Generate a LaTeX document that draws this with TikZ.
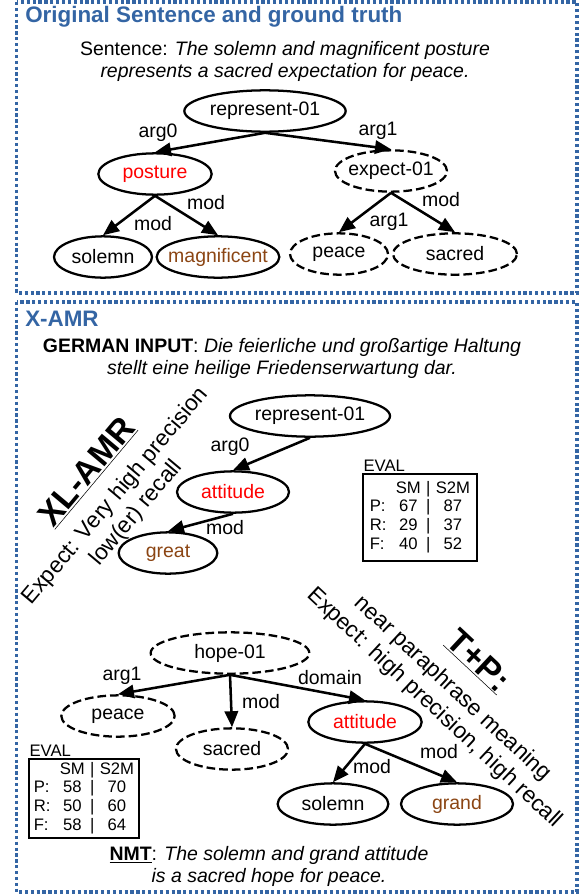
\documentclass[tikz,border=0pt]{standalone}
\usepackage{fontspec}
\setmainfont{Liberation Sans}
\usetikzlibrary{arrows.meta,shapes.geometric,positioning}
\definecolor{frameblue}{HTML}{3465A4}
\definecolor{conceptred}{HTML}{FF0000}
\definecolor{conceptbrown}{HTML}{8B4513}

% keep the ellipse size independent of the label width
\newcommand{\ctr}[1]{\makebox[0pt]{#1}}

\begin{document}
\begin{tikzpicture}[
  x=0.75pt, y=-0.75pt,
  font=\fontsize{14.6}{16.5}\selectfont,
  concept/.style={ellipse, draw, line width=1.7pt, inner sep=0pt, minimum height=31pt},
  guess/.style={concept, dash pattern=on 6.5pt off 3pt},
  edge/.style={-{Triangle[length=12pt,width=10pt]}, line width=1.9pt},
  role/.style={inner sep=0pt},
  frame/.style={draw=frameblue, line width=2.6pt, dash pattern=on 2.4pt off 2pt},
  heading/.style={anchor=west, text=frameblue, inner sep=0pt,
    font=\fontsize{16.8}{20}\selectfont\bfseries},
  gloss/.style={align=center, inner sep=0pt},
  evalbox/.style={draw, line width=1.4pt, inner xsep=2pt, inner ysep=0pt,
    anchor=north west, font=\fontsize{12.5}{14}\selectfont},
  evaltag/.style={anchor=south west, inner sep=1pt, font=\fontsize{12.5}{14}\selectfont},
  verdict/.style={align=center, inner sep=0pt, font=\fontsize{17}{20}\selectfont}
]
\useasboundingbox (0,0) rectangle (581,896);

% panels
\draw[frame] (16.5,2) rectangle (577,293);
\draw[frame] (16.5,302) rectangle (577,892);
\node[heading] (title-orig) at (25,17) {Original Sentence and ground truth};
\node[heading] (title-xamr) at (25,319) {X-AMR};

% ground truth
\node[gloss] (sentence) at (285,61)
  {Sentence: \textit{The solemn and magnificent posture}\\
   \textit{represents a sacred expectation for peace.}};

\node[concept, minimum width=121pt] (rep1) at (265,111) {\ctr{represent-01}};
\node[concept, minimum width=85pt, text=conceptred] (posture) at (155,174) {\ctr{posture}};
\node[guess, minimum width=84pt] (expect) at (391,171) {\ctr{expect-01}};
\node[concept, minimum width=73.5pt] (solemn1) at (103,257) {\ctr{solemn}};
\node[concept, minimum width=92pt, text=conceptbrown] (magnif) at (218,257) {\ctr{magnificent}};
\node[guess, minimum width=73.5pt] (peace1) at (339,254) {\ctr{peace}};
\node[guess, minimum width=93pt] (sacred1) at (455,254) {\ctr{sacred}};

\draw[edge] (rep1.south) -- (posture.north);
\draw[edge] (rep1.south) -- (expect.north);
\draw[edge] (posture.south) -- (solemn1.north);
\draw[edge] (posture.south) -- (magnif.north);
\draw[edge] (expect.south) -- (peace1.north);
\draw[edge] (expect.south) -- (sacred1.north);

\node[role] (r1-arg0) at (158,133) {arg0};
\node[role] (r1-arg1) at (378,131) {arg1};
\node[role] (p-mod2) at (206,203) {mod};
\node[role] (p-mod1) at (153,224) {mod};
\node[role] (e-arg1) at (389,222) {arg1};
\node[role] (e-mod) at (441,200) {mod};

% german input
\node[gloss] (german) at (282,358)
  {\textbf{GERMAN INPUT}: \textit{Die feierliche und großartige Haltung}\\
   \textit{stellt eine heilige Friedenserwartung dar.}};

% XL-AMR parse
\node[concept, minimum width=120pt] (rep2) at (310,416) {\ctr{represent-01}};
\node[concept, minimum width=84pt, text=conceptred] (att1) at (233,492) {\ctr{attitude}};
\node[concept, minimum width=74pt, text=conceptbrown] (great) at (168,553) {\ctr{great}};
\draw[edge] (rep2.south) -- (att1.north);
\draw[edge] (att1.south) -- (great.north);
\node[role] (r2-arg0) at (230,447) {arg0};
\node[role] (a1-mod) at (225,528) {mod};

\node[verdict, rotate=50] (xlamr) at (111,492)
  {{\fontsize{25}{20}\selectfont\bfseries\underline{XL-AMR}}\\[5pt]
   Expect: Very high precision\\low(er) recall};

\node[evalbox, minimum width=85.5pt, minimum height=65pt] (eval1) at (362,473)
  {\begin{tabular}{@{}l@{\hspace{7pt}}c@{\hspace{4pt}}c@{\hspace{4pt}}c@{}}
     & SM & | & S2M\\
   P: & 67 & | & 87\\
   R: & 29 & | & 37\\
   F: & 40 & | & 52
   \end{tabular}};
\node[evaltag] (eval1-tag) at (eval1.north west) {EVAL};

% T+P parse
\node[guess, minimum width=119pt] (hope) at (230,653) {\ctr{hope-01}};
\node[guess, minimum width=85pt] (peace2) at (118,716) {\ctr{peace}};
\node[guess, minimum width=84pt] (sacred2) at (232,749) {\ctr{sacred}};
\node[concept, minimum width=85pt, text=conceptred] (att2) at (365,722) {\ctr{attitude}};
\node[concept, minimum width=83pt] (solemn2) at (333,804) {\ctr{solemn}};
\node[concept, minimum width=84pt, text=conceptbrown] (grand) at (457,804) {\ctr{grand}};

\draw[edge] (hope.south) -- (peace2.north);
\draw[edge] (hope.south) -- (sacred2.north);
\draw[edge] (hope.south) -- (att2.north);
\draw[edge] (att2.south) -- (solemn2.north);
\draw[edge] (att2.south) -- (grand.north);

\node[role] (h-arg1) at (122,676) {arg1};
\node[role] (h-mod) at (261,702) {mod};
\node[role] (h-domain) at (330,678) {domain};
\node[role] (a2-mod1) at (372,767) {mod};
\node[role] (a2-mod2) at (439,752) {mod};

\node[verdict, rotate=-43] (tplusp) at (457,684)
  {{\fontsize{25}{20}\selectfont\bfseries\underline{T+P:}}\\[5pt]
   near paraphrase meaning\\Expect: high precision, high recall};

\node[evalbox, minimum width=82.5pt, minimum height=59pt] (eval2) at (28,758)
  {\begin{tabular}{@{}l@{\hspace{7pt}}c@{\hspace{4pt}}c@{\hspace{4pt}}c@{}}
     & SM & | & S2M\\
   P: & 58 & | & 70\\
   R: & 50 & | & 60\\
   F: & 58 & | & 64
   \end{tabular}};
\node[evaltag] (eval2-tag) at (eval2.north west) {EVAL};

\node[gloss] (nmt) at (269,866)
  {\textbf{\underline{NMT}}: \textit{The solemn and grand attitude}\\
   \textit{is a sacred hope for peace.}};

\end{tikzpicture}
\end{document}
